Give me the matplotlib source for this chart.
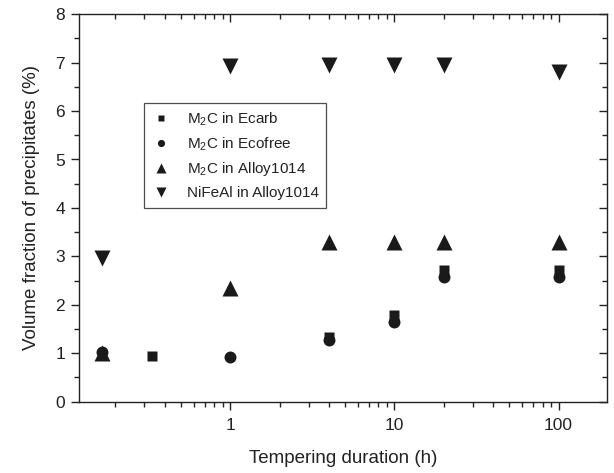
import matplotlib
matplotlib.use("Agg")
import matplotlib.pyplot as plt
from matplotlib.ticker import LogLocator, NullFormatter, FixedLocator, MultipleLocator

plt.rcParams['font.family'] = ['Liberation Sans', 'DejaVu Sans']
plt.rcParams['mathtext.default'] = 'regular'

# Data (tempering duration in h, volume fraction in %)
t_ecarb = [1/3, 4, 10, 20, 100]
v_ecarb = [0.93, 1.33, 1.78, 2.71, 2.71]

t_ecofree = [1/6, 1, 4, 10, 20, 100]
v_ecofree = [1.03, 0.91, 1.27, 1.65, 2.57, 2.57]

t_m2c_alloy = [1/6, 1, 4, 10, 20, 100]
v_m2c_alloy = [1.0, 2.35, 3.3, 3.3, 3.3, 3.3]

t_nifeal = [1/6, 1, 4, 10, 20, 100]
v_nifeal = [2.97, 6.93, 6.95, 6.95, 6.95, 6.81]

labels = ["M$_2$C in Ecarb", "M$_2$C in Ecofree", "M$_2$C in Alloy1014", "NiFeAl in Alloy1014"]
xtick_vals = [1, 10, 100]
xtick_labels = ["1", "10", "100"]

fig = plt.figure(figsize=(6.14, 4.73), dpi=100)
ax = fig.add_axes([79/614, 1-401.5/473, (606.5-79)/614, (401.5-14.3)/473])

c = '#1a1a1a'
ax.plot(t_ecarb, v_ecarb, 's', ms=7.8, color=c, mec='none', label=labels[0])
ax.plot(t_ecofree, v_ecofree, 'o', ms=8.6, color=c, mec='none', label=labels[1])
ax.plot(t_m2c_alloy, v_m2c_alloy, '^', ms=11, color=c, mec='none', label=labels[2])
ax.plot(t_nifeal, v_nifeal, 'v', ms=11, color=c, mec='none', label=labels[3])

ax.set_xscale('log')
ax.set_xlim(0.12, 196)
ax.set_ylim(0, 8)
ax.xaxis.set_major_locator(FixedLocator(xtick_vals))
ax.set_xticks(xtick_vals)
ax.set_xticklabels(xtick_labels)
ax.xaxis.set_minor_locator(LogLocator(base=10, subs=[2, 3, 4, 5, 6, 7, 8, 9]))
ax.xaxis.set_minor_formatter(NullFormatter())
ax.yaxis.set_major_locator(MultipleLocator(1))
ax.yaxis.set_minor_locator(MultipleLocator(0.5))

for s in ax.spines.values():
    s.set_linewidth(1.0)
    s.set_color('#222222')

ax.tick_params(which='both', labelsize=12.5, colors='#222222', width=1.0)
ax.tick_params(which='major', length=6)
ax.tick_params(axis='x', which='major', pad=6)
ax.tick_params(axis='y', which='major', pad=4)
ax.tick_params(which='minor', length=3.5)
ax.tick_params(which='both', top=True, right=True, direction='out')
for t in ax.xaxis.get_major_ticks() + ax.xaxis.get_minor_ticks():
    t.tick2line.set_marker(3)  # inward on top
for t in ax.yaxis.get_major_ticks() + ax.yaxis.get_minor_ticks():
    t.tick2line.set_marker(0)  # inward on right

ax.set_xlabel("Tempering duration (h)", fontsize=13.5, color='#222222', labelpad=12)
ax.set_ylabel("Volume fraction of precipitates (%)", fontsize=13.5, color='#222222', labelpad=11)

leg = ax.legend(loc='upper left', bbox_to_anchor=(144/614, 1-102.7/473),
                bbox_transform=fig.transFigure, borderaxespad=0,
                fontsize=11, markerscale=0.6, frameon=True, fancybox=False,
                handlelength=1.2, handletextpad=1.1, labelspacing=0.5,
                borderpad=0.5, numpoints=1)
leg.get_frame().set_edgecolor('#222222')
leg.get_frame().set_linewidth(0.9)
for t in leg.get_texts():
    t.set_color('#222222')

fig.savefig("out.png", dpi=100)
